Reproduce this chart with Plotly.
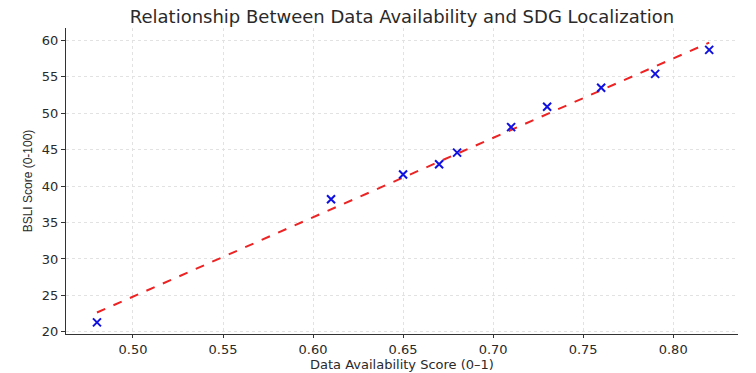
import numpy as np
import plotly.graph_objects as go

data_availability = [0.48, 0.61, 0.65, 0.67, 0.68, 0.71, 0.73, 0.76, 0.79, 0.82]
bsli_score = [21.3, 38.2, 41.6, 43.0, 44.6, 48.1, 50.9, 53.5, 55.4, 58.7]
x_ticks = [0.50, 0.55, 0.60, 0.65, 0.70, 0.75, 0.80]
y_ticks = [20, 25, 30, 35, 40, 45, 50, 55, 60]

slope, intercept = np.polyfit(data_availability, bsli_score, 1)
trend_x = [min(data_availability), max(data_availability)]
trend_y = [slope * v + intercept for v in trend_x]

fig = go.Figure()
fig.add_trace(go.Scatter(
    x=trend_x, y=trend_y, mode="lines",
    line=dict(color="#ee2222", width=2, dash="dash"),
    showlegend=False, hoverinfo="skip"))
fig.add_trace(go.Scatter(
    x=data_availability, y=bsli_score, mode="markers",
    marker=dict(symbol="x-thin", size=8, line=dict(color="#1010e0", width=2), color="#1010e0"),
    showlegend=False))

text_color = "#2a2a2a"
tick_font = dict(family="DejaVu Sans", size=13, color=text_color)
top, bottom = 28, 39
plot_h = 373 - top - bottom
fig.update_layout(
    width=756, height=373,
    margin=dict(l=66, r=18, t=top, b=bottom),
    paper_bgcolor="white", plot_bgcolor="white",
    title=dict(text="Relationship Between Data Availability and SDG Localization",
               x=0.5, xref="paper", xanchor="center",
               y=1 - 17 / 373, yref="container", yanchor="middle",
               font=dict(family="DejaVu Sans", size=18, color=text_color)),
    xaxis=dict(range=[0.4628, 0.836], tickvals=x_ticks,
               ticktext=[f"{v:.2f}" for v in x_ticks],
               showgrid=True, gridcolor="#e2e2e2", griddash="dot", gridwidth=1,
               showline=True, linecolor="#333333", linewidth=1.2,
               ticks="outside", ticklen=3, tickcolor="#333333",
               tickfont=tick_font, zeroline=False, automargin=False),
    yaxis=dict(range=[19.7, 61.7], tickvals=y_ticks,
               showgrid=True, gridcolor="#e2e2e2", griddash="dot", gridwidth=1,
               showline=True, linecolor="#333333", linewidth=1.2,
               ticks="outside", ticklen=4, tickcolor="#333333",
               tickfont=tick_font, zeroline=False, automargin=False,
               title=dict(text="BSLI Score (0-100)", standoff=6,
                          font=dict(family="Liberation Sans", size=12, color=text_color))),
    annotations=[dict(text="Data Availability Score (0–1)", xref="paper", yref="paper",
                      x=0.5, y=-(364 - (373 - bottom)) / plot_h, xanchor="center", yanchor="middle",
                      showarrow=False,
                      font=dict(family="DejaVu Sans", size=13, color=text_color))],
)

fig.write_html("out.html")
